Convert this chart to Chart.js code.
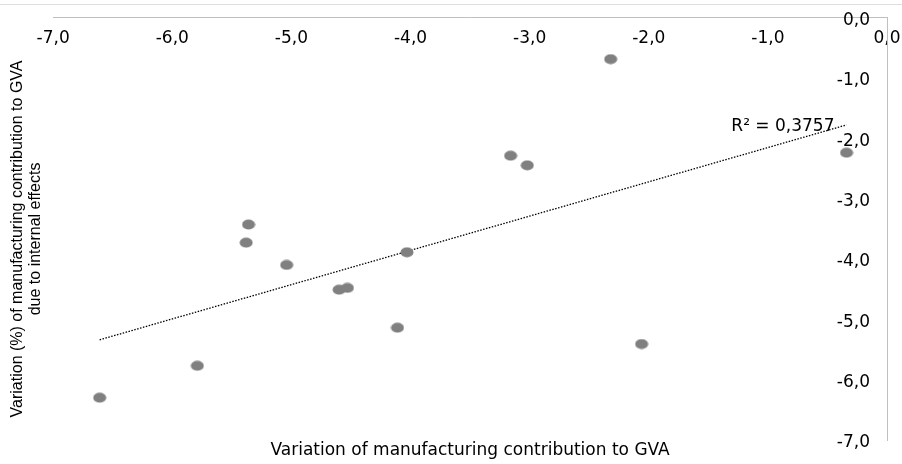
<!DOCTYPE html>
<html lang="en">
<head>
<meta charset="UTF-8">
<title>Manufacturing contribution to GVA</title>
<script src="https://cdn.jsdelivr.net/npm/chart.js"></script>
<style>
  html, body { margin: 0; padding: 0; background: #fff; }
  #wrap { width: 902px; height: 464px; position: relative; }
</style>
</head>
<body>
<div id="wrap"><canvas id="scatterChart"></canvas></div>
<script>
// x: variation of manufacturing contribution to GVA, y: variation due to internal effects
const xValues = [-2.32, -3.16, -3.02, -0.34, -5.36, -5.38, -5.04, -4.03, -4.60, -4.53, -4.11, -2.06, -5.79, -6.61];
const yValues = [-0.69, -2.29, -2.45, -2.24, -3.43, -3.73, -4.10, -3.89, -4.51, -4.48, -5.14, -5.41, -5.77, -6.30];

// linear trend line as drawn (from min x to max x)
const trendX = [-6.61, -0.34];
const trendY = [-5.34, -1.78];
const rSquared = '0,3757';

const axisMin = -7;
const axisMax = 0;

const fmt = v => Number(v).toFixed(1).replace('.', ',');

// slightly wide grey dot, like the reference markers
const dot = document.createElement('canvas');
dot.width = 14;
dot.height = 11;
const dctx = dot.getContext('2d');
dctx.fillStyle = '#808080';
dctx.beginPath();
dctx.ellipse(7, 5.5, 6.5, 5, 0, 0, Math.PI * 2);
dctx.fill();

const extras = {
    id: 'extras',
    beforeDraw(chart) {
        const ctx = chart.ctx;
        ctx.save();
        ctx.strokeStyle = '#dedede';
        ctx.lineWidth = 1;
        ctx.beginPath();
        ctx.moveTo(0, 4.5);
        ctx.lineTo(chart.width, 4.5);
        ctx.stroke();
        ctx.restore();
    },
    afterDatasetsDraw(chart) {
        const ctx = chart.ctx;
        const px = chart.scales.x.getPixelForValue(trendX[1]);
        const py = chart.scales.y.getPixelForValue(trendY[1]);
        ctx.save();
        ctx.font = '17px "DejaVu Sans"';
        ctx.fillStyle = '#000';
        ctx.textAlign = 'right';
        ctx.textBaseline = 'middle';
        ctx.fillText('R² = ' + rSquared, px - 12, py + 2);
        ctx.restore();
    }
};

new Chart(document.getElementById('scatterChart'), {
    type: 'scatter',
    data: {
        datasets: [{
            label: 'Countries',
            data: xValues.map((x, i) => ({ x: x, y: yValues[i] })),
            pointStyle: dot,
            pointRadius: 6,
            pointHoverRadius: 6
        }, {
            type: 'line',
            label: 'Linear trend',
            data: trendX.map((x, i) => ({ x: x, y: trendY[i] })),
            borderColor: '#000',
            borderWidth: 1.3,
            borderDash: [1.5, 1.5],
            pointRadius: 0,
            fill: false
        }]
    },
    options: {
        responsive: true,
        maintainAspectRatio: false,
        animation: false,
        layout: { padding: { left: 6, right: 15, top: 17.5, bottom: 3.6 } },
        plugins: {
            legend: { display: false },
            tooltip: { enabled: false },
            title: {
                display: true,
                position: 'left',
                text: ['Variation (%) of manufacturing contribution to GVA', 'due to internal effects'],
                color: '#000',
                font: { family: '"Liberation Sans"', size: 16, weight: 'normal', lineHeight: 1.1 },
                padding: { top: 3, bottom: 9 }
            },
            subtitle: {
                display: true,
                position: 'bottom',
                fullSize: false,
                text: 'Variation of manufacturing contribution to GVA',
                color: '#000',
                font: { family: '"DejaVu Sans"', size: 17, lineHeight: 1.2 },
                padding: { top: 0, bottom: 0 }
            }
        },
        scales: {
            x: {
                type: 'linear',
                position: { y: 0 },
                min: axisMin,
                max: axisMax,
                grid: { display: false, drawTicks: false },
                border: { display: true, color: '#bfbfbf', width: 1 },
                ticks: {
                    stepSize: 1,
                    padding: 11,
                    color: '#000',
                    font: { family: '"DejaVu Sans"', size: 17 },
                    callback: v => fmt(v)
                },
                // let the last label run past the plot edge, as in the original
                afterFit: scale => {
                    scale.paddingLeft = 0;
                    scale.paddingRight = 0;
                }
            },
            y: {
                type: 'linear',
                position: 'right',
                min: axisMin,
                max: axisMax,
                grid: { display: false, drawTicks: false },
                border: { display: true, color: '#bfbfbf', width: 1 },
                ticks: {
                    stepSize: 1,
                    mirror: true,
                    padding: -17,
                    labelOffset: 3,
                    color: '#000',
                    font: { family: '"DejaVu Sans"', size: 17 },
                    callback: v => fmt(v)
                },
                // labels sit inside the plot, so the axis takes no room
                afterFit: scale => {
                    scale.width = 0;
                    scale.paddingTop = 0;
                    scale.paddingBottom = 0;
                }
            }
        }
    },
    plugins: [extras]
});
</script>
</body>
</html>
